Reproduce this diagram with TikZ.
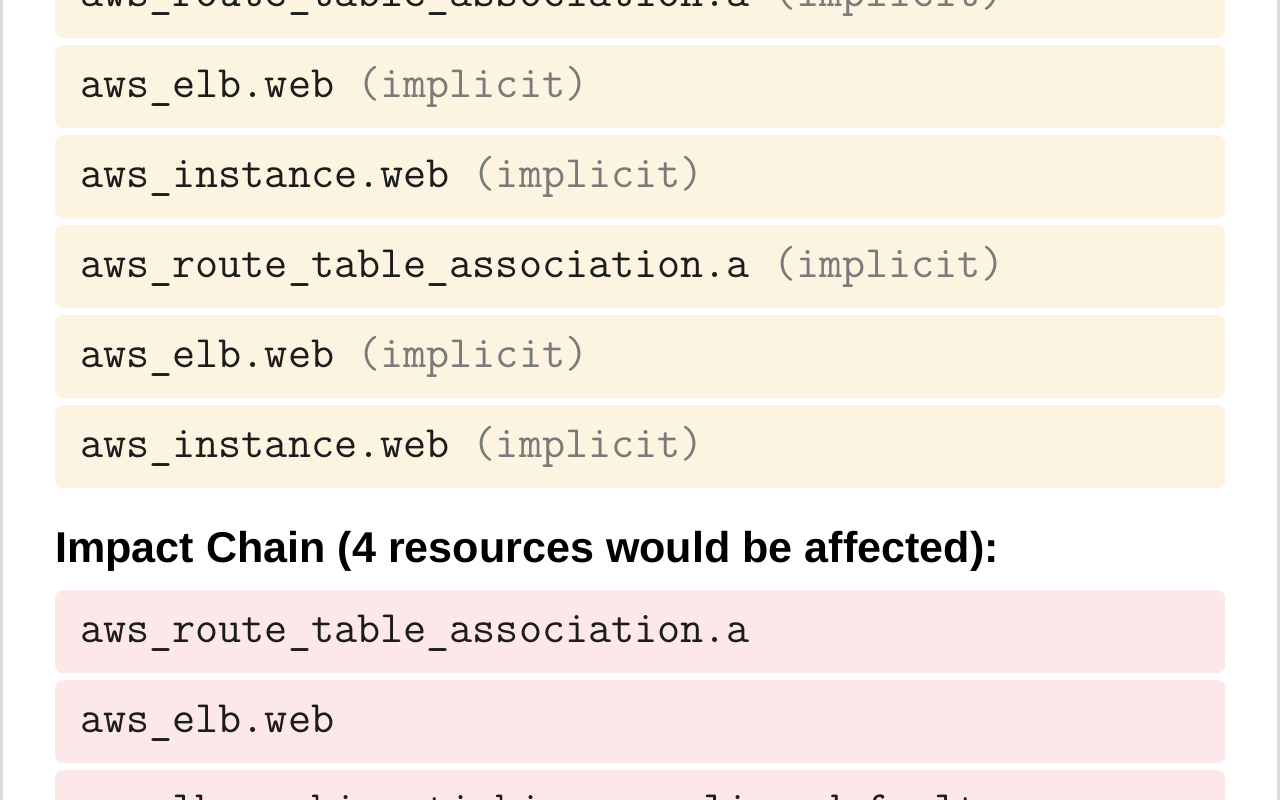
\documentclass[tikz,border=0pt]{standalone}
\usepackage{fontspec}
\setsansfont{Liberation Sans}
\definecolor{edgegray}{HTML}{DEDEDE}
\definecolor{yfill}{HTML}{FDF3E1}
\definecolor{pfill}{HTML}{FCE8E9}
\definecolor{codeink}{HTML}{1C1C1C}
\definecolor{implink}{HTML}{7A7A7A}
\begin{document}
\begin{tikzpicture}[x=1pt,y=-1pt,
  rowbox/.style={draw=none,rounded corners=8pt,minimum width=1170pt,minimum height=83pt,inner sep=0pt,anchor=north west},
  ybox/.style={rowbox,fill=yfill},
  pbox/.style={rowbox,fill=pfill},
  code/.style={anchor=base west,inner sep=0pt,text=codeink,font=\fontsize{44.85}{50}\selectfont\ttfamily},
  heading/.style={anchor=base west,inner sep=0pt,text=black,font=\fontsize{43.1}{48}\selectfont\sffamily\bfseries}]
\useasboundingbox (0,0) rectangle (1280,800);
\fill[white] (0,0) rectangle (1280,800);
\fill[edgegray] (0,0) rectangle (3,800);
\fill[edgegray] (1277,0) rectangle (1280,800);
\newcommand{\impl}{ \textcolor{implink}{(implicit)}}
% dependency rows
\node[ybox] (y0) at (55,-45) {};
\node[ybox] (y1) at (55,45) {};
\node[ybox] (y2) at (55,135) {};
\node[ybox] (y3) at (55,225) {};
\node[ybox] (y4) at (55,315) {};
\node[ybox] (y5) at (55,405) {};
\node[code] (ty0) at (80,7) {aws\_route\_table\_association.a\impl};
\node[code] (ty1) at (80,97) {aws\_elb.web\impl};
\node[code] (ty2) at (80,187) {aws\_instance.web\impl};
\node[code] (ty3) at (80,277) {aws\_route\_table\_association.a\impl};
\node[code] (ty4) at (80,367) {aws\_elb.web\impl};
\node[code] (ty5) at (80,457) {aws\_instance.web\impl};
% heading
\node[heading] (hd) at (55,562) {Impact Chain (4 resources would be affected):};
% impact rows
\node[pbox] (p0) at (55,590) {};
\node[pbox] (p1) at (55,680) {};
\node[pbox] (p2) at (55,770) {};
\node[code] (tp0) at (80,642) {aws\_route\_table\_association.a};
\node[code] (tp1) at (80,732) {aws\_elb.web};
\node[code] (tp2) at (80,822) {aws\_lb\_cookie\_stickiness\_policy.default};
\end{tikzpicture}
\end{document}
